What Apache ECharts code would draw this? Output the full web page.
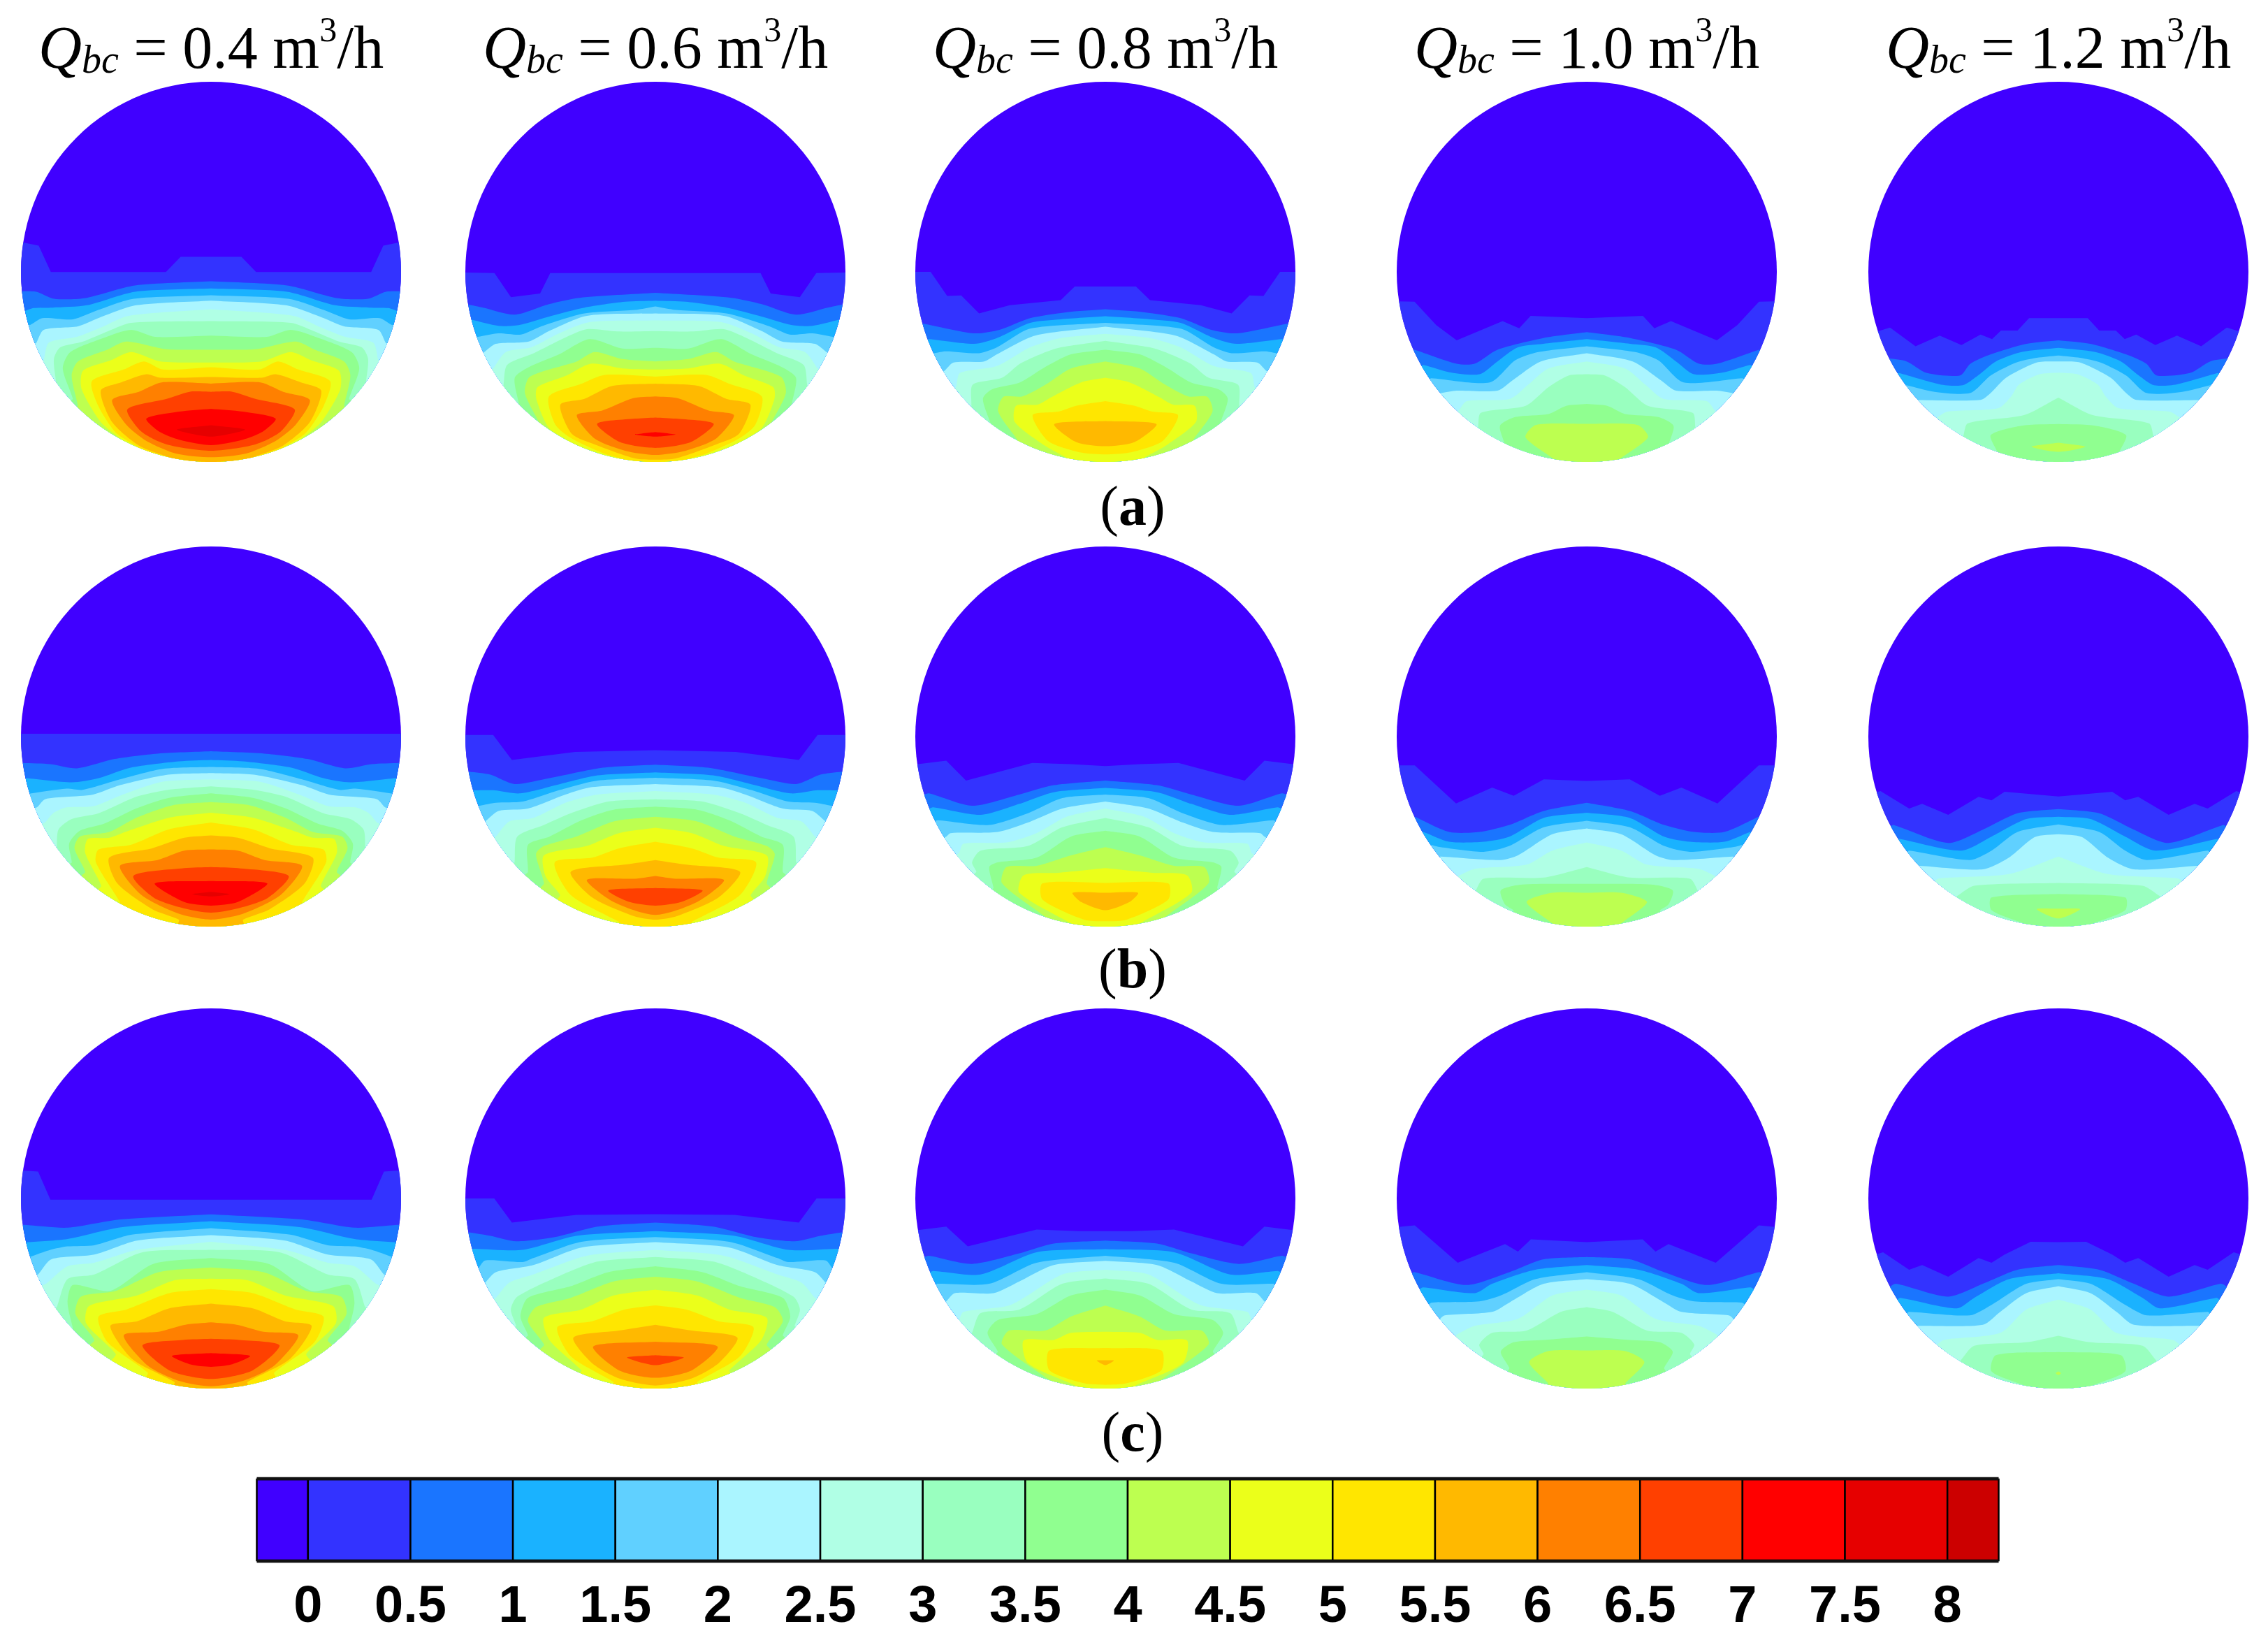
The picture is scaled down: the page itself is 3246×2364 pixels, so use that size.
<!DOCTYPE html>
<html><head><meta charset="utf-8">
<style>html,body{margin:0;padding:0;background:#fff}#c{width:3246px;height:2364px}</style>
<script src="https://cdn.jsdelivr.net/npm/echarts@6/dist/echarts.min.js"></script>
</head><body><div id="c"></div>
<script>
// Contour boundaries, right half of each pipe section (mirrored left): pairs of [offset from axis, depth].
// One list per contour level 0, 0.5, 1, ... Units are each panel's axis units.
const flowRates=['0.4','0.6','0.8','1.0','1.2'];
const rowLabels=['a','b','c'];
const tickLabels=['0','0.5','1','1.5','2','2.5','3','3.5','4','4.5','5','5.5','6','6.5','7','7.5','8'];
const bandColors=['#4000ff','#3333ff','#1a75ff','#1ab2ff','#60d0ff','#aaf5ff','#b0ffe5','#99ffbf','#90ff90','#bdff50','#ebff1a','#ffe600','#ffb900','#ff8000','#ff4000','#ff0000','#e60000','#cc0000'];
const xHalfSpans=[[750,750,745,745,745],[355,355,221,221,219],[355,355,221,221,219]];
const yCentres=[147,162,165];
const yHalfSpan=813;

const panelA1=[[0,83,120,83,178,148,632,148,680,35,750,20],[0,187,300,205,500,260,620,262,690,232,750,230],[0,218,300,232,490,290,625,300,700,302,750,318],[0,247,305,262,445,310,545,350,665,345,715,375,750,380],[0,270,295,290,445,345,525,380,660,395,690,452],[0,307,325,335,435,385,530,425,640,450,660,525],[0,358,315,365,405,400,505,445,595,470,620,520,615,620],[0,420,220,425,315,395,425,430,555,490,585,560,545,690],[0,480,175,478,335,445,410,480,525,530,550,590,525,720],[0,535,200,530,315,490,395,525,505,570,510,650,435,790,360,860],[0,555,190,565,265,530,345,565,470,615,445,720,375,835,283,905],[0,597,200,600,255,585,355,620,435,655,390,790,285,890,170,945],[0,625,195,620,285,660,390,695,335,800,255,870,135,925,0,940],[0,660,85,660,175,690,330,735,275,830,175,885,0,912],[0,733,125,745,255,775,205,830,125,865,0,888],[0,803,135,822,0,852]];
const panelA2=[[0,152,415,152,455,240,570,255,635,152,750,150],[0,237,300,258,420,285,555,330,680,300,740,287],[0,270,120,275,280,300,410,335,540,375,620,378,725,352],[0,295,80,310,280,325,450,380,530,415,620,410,700,425],[0,325,270,335,420,400,500,445,630,455,675,490],[0,355,260,362,380,410,490,470,590,490,640,560],[0,400,150,402,270,392,360,430,480,495,585,545,605,640],[0,472,130,475,260,435,380,500,500,555,555,600,545,720],[0,530,130,520,240,490,310,530,495,595,515,665,460,790],[0,565,130,560,255,540,350,590,465,640,470,690,420,815,335,875],[0,595,200,588,290,625,420,680,395,800,330,860,200,925,130,960],[0,625,170,635,280,690,375,715,330,840,240,885,80,945,0,950],[0,680,90,688,210,740,310,760,240,860,120,912,0,930],[0,770,80,775,230,797,140,875,0,900],[0,832,80,843,0,852]];
const panelA3=[[0,210,120,210,175,268,375,290,495,325,565,248,620,250,685,147,745,147],[0,307,155,320,295,345,415,395,515,410,715,368],[0,337,175,350,295,365,425,430,515,455,690,435],[0,365,295,390,425,470,495,495,625,487,670,495],[0,382,275,420,425,500,475,530,595,535,630,570],[0,412,175,430,295,470,425,550,570,580,585,640],[0,442,175,470,245,495,335,540,405,600,520,630,525,720],[0,480,135,500,245,560,335,620,445,650,480,690,450,795],[0,530,135,560,235,630,325,680,400,682,420,745,345,865],[0,600,95,620,215,685,265,715,350,720,355,790,245,885,155,940],[0,700,115,720,185,745,285,760,225,870,95,920,0,928],[0,785,200,798,115,875,0,893]];
const panelA4=[[0,345,220,335,265,388,330,358,510,440,590,375,675,275,745,275],[0,405,170,430,350,480,440,540,510,540,675,480],[0,435,170,455,270,470,350,530,420,585,530,578,640,545],[0,465,190,490,280,525,380,620,610,602],[0,495,180,530,290,610,350,655,510,655,570,665],[0,530,150,560,230,630,300,690,470,700,505,745],[0,585,70,590,150,640,240,720,415,750,430,820],[0,712,80,720,150,755,280,768,340,805,325,885],[0,797,200,802,240,855,130,950]];
const panelA5=[[0,345,115,345,160,398,225,398,260,435,305,415,380,460,465,420,560,465,660,385,705,400],[0,440,125,455,265,500,345,540,385,590,515,580,595,530,665,518],[0,472,145,490,245,530,315,590,375,632,465,628,625,580],[0,505,85,515,165,535,265,590,345,665,485,660,600,632],[0,530,85,535,205,600,265,665,305,695,555,700],[0,578,75,585,155,630,185,680,235,730,435,745,475,770],[0,685,135,760,355,795,375,855],[0,798,145,805,265,845,240,920],[0,878,105,895,0,917]];
const panelB1=[[0,150,355,150],[0,225,100,235,180,258,250,298,300,280,352,275],[0,262,60,268,150,295,210,340,260,358,345,340],[0,292,90,300,170,345,240,390,270,385,335,405],[0,318,80,325,170,370,220,410,270,420,310,430,325,465],[0,345,90,355,170,415,220,460,270,465,295,490,310,530],[0,375,80,390,140,420,210,490,260,515,285,560,290,640],[0,405,80,425,140,470,200,535,245,565,265,620,260,700],[0,442,70,455,140,510,190,570,245,590,255,640,235,740],[0,488,80,510,160,570,190,595,230,600,235,660,205,800],[0,530,80,560,150,625,210,645,215,700,170,870],[0,585,50,595,110,640,190,680,175,790,110,900,60,945],[0,645,50,650,100,690,170,715,130,840,60,920,0,945],[0,720,50,725,145,758,100,860,0,915],[0,780,105,790,50,870,0,885],[0,826,35,836,0,846]];
const panelB2=[[0,220,150,228,268,262,303,155,358,155],[0,282,98,295,198,340,263,365,308,325,348,312],[0,315,108,328,178,365,253,405,300,392,340,392],[0,338,108,350,178,390,248,440,298,445,328,458],[0,365,118,378,168,410,238,470,293,480,318,525],[0,395,108,410,168,445,228,510,273,525,298,590],[0,430,88,440,158,490,208,540,258,590,263,700],[0,462,78,475,138,520,198,590,238,625,238,740],[0,505,78,525,148,590,208,630,223,665,208,790],[0,552,68,575,128,630,208,670,205,760,178,840],[0,612,68,640,118,680,188,700,158,840,68,955],[0,690,58,710,158,740,118,850,40,930,0,945],[0,758,38,770,128,775,78,870,0,925],[0,810,88,820,48,870,0,885]];
const panelB3=[[0,288,40,280,85,275,162,350,185,265,218,280],[0,350,60,370,100,410,155,458,205,405],[0,382,60,400,100,450,145,497,200,465],[0,410,50,425,90,490,135,540,195,520],[0,440,50,470,90,530,125,570,180,575,185,590],[0,470,45,505,80,575,115,615,165,620,170,660],[0,510,50,550,90,630,145,650,155,700,150,740],[0,565,40,590,80,680,125,700,135,720,130,810],[0,635,40,670,80,715,115,720,120,790,70,935],[0,725,55,745,95,755,100,830,40,965],[0,788,73,790,73,860,25,945,0,952],[0,830,38,830,28,870,0,905]];
const panelB4=[[0,352,50,345,85,415,110,380,152,448,200,285,218,285],[0,445,50,480,90,540,125,570,160,570,200,505],[0,488,50,510,90,590,120,612,160,612,190,570],[0,522,50,550,90,630,120,655,170,635,182,625],[0,555,40,580,80,670,100,690,170,675],[0,615,40,650,70,710,130,728,150,760],[0,720,50,765,120,770,130,825],[0,792,75,795,100,820,95,880,85,905],[0,830,40,830,70,870,40,965]];
const panelB5=[[0,418,62,398,77,435,92,420,127,497,157,450,172,470,205,395],[0,472,47,490,87,560,127,617,190,540],[0,505,37,515,77,590,112,650,183,600],[0,538,47,570,77,650,102,690,172,650],[0,580,27,592,57,680,87,730,160,715],[0,675,57,750,137,768,145,790],[0,788,97,800,117,845],[0,835,77,850,77,905,40,965],[0,898,25,900,0,940]];
const panelC1=[[0,170,300,170,323,50,353,45],[0,233,170,255,268,290,348,278],[0,262,168,288,268,338,343,352],[0,292,148,320,218,365,268,370,300,385,338,415],[0,322,138,345,218,405,298,425,323,490],[0,350,138,385,218,440,268,455,308,530],[0,385,128,395,218,490,268,510,288,630],[0,420,108,445,188,560,258,535,268,610,258,720],[0,460,98,480,178,560,243,585,253,660,218,770],[0,508,68,515,138,580,228,625,233,700,178,830],[0,553,78,570,158,640,210,670,193,780,118,910],[0,615,78,635,138,690,188,710,148,850,68,950],[0,695,48,705,98,735,163,750,118,880,60,945,0,968],[0,765,53,770,128,793,78,900,0,937],[0,826,73,838,38,875,0,885]];
const panelC2=[[0,232,148,235,268,268,301,165,358,165],[0,268,108,285,188,330,260,348,308,325,348,310],[0,305,148,325,248,385,338,380],[0,330,138,350,228,420,248,437,318,430,333,465],[0,352,138,375,228,450,298,480,318,525],[0,385,128,410,228,490,273,525,298,590],[0,415,108,435,178,495,258,585,270,640,260,710],[0,455,88,480,158,540,238,590,252,670,238,750],[0,500,78,520,158,590,223,630,238,690,208,790],[0,555,78,580,138,640,208,675,198,770,138,900],[0,622,58,640,118,690,183,715,158,840,78,950],[0,705,68,730,153,760,118,870,68,935,0,965],[0,778,116,798,68,900,0,932],[0,835,53,845,0,878]];
const panelC3=[[0,305,30,305,80,298,160,370,185,285,218,300],[0,345,60,358,100,400,155,445,205,410],[0,382,80,395,145,490,200,475],[0,410,80,440,135,530,195,530],[0,432,60,450,100,520,130,570,175,570,185,605],[0,470,50,490,110,620,165,650,172,690],[0,507,50,530,100,640,145,655,155,740],[0,555,40,580,80,660,125,685,137,740,125,820],[0,623,40,670,70,730,112,730,120,790,65,945],[0,735,40,740,60,770,95,772,90,870,35,965],[0,805,65,815,65,900,25,955,0,962],[0,857,10,858,0,878]];
const panelC4=[[0,352,65,340,80,392,95,360,150,440,200,280,215,285],[0,415,50,425,90,480,140,535,200,480],[0,450,60,470,110,530,130,570,190,545],[0,480,60,510,100,580,125,605,180,610],[0,510,50,530,90,610,110,650,165,665],[0,555,40,580,80,680,130,710,150,745],[0,630,30,650,70,730,110,740,125,790,120,830],[0,755,50,770,85,780,100,820,90,890],[0,815,45,818,67,865,45,955]];
const panelC5=[[0,352,32,350,62,405,77,440,92,420,127,500,157,450,172,470,202,395],[0,450,47,470,87,530,127,585,187,530],[0,485,57,510,97,590,117,635,182,590],[0,510,37,530,77,620,102,665,172,650],[0,540,37,570,67,650,87,705,162,710],[0,598,37,640,67,740,132,770,140,790],[0,752,37,780,97,795,112,855],[0,822,72,835,77,905,40,970],[0,905,3,912,0,920]];
const panels=[[panelA1,panelA2,panelA3,panelA4,panelA5],[panelB1,panelB2,panelB3,panelB4,panelB5],[panelC1,panelC2,panelC3,panelC4,panelC5]];

const colX=[302,938,1582,2271,2946], rowY=[389,1054,1715], R=272;
const serif='"Liberation Serif","DejaVu Serif",serif';
const chart=echarts.init(document.getElementById('c'),null,{renderer:'canvas'});
const grid=[],xAxis=[],yAxis=[],series=[],title=[];

function outline(levelPts,X,Yc,Y){
  const pts=[];
  for(let i=0;i<levelPts.length;i+=2){
    const u=levelPts[i]/X,v=(levelPts[i+1]-Yc)/Y,r=Math.hypot(u,v);
    pts.push(r>1?[u/r,v/r]:[u,v]);
  }
  const last=pts[pts.length-1];
  const right=pts.slice();
  if(last[0]!==0){
    const r=Math.hypot(last[0],last[1]);
    const e=[last[0]/r,last[1]/r];
    right.push(e);
    const a0=Math.atan2(e[1],e[0]);
    const steps=40;
    for(let k=1;k<steps;k++){
      const a=a0+(Math.PI/2-a0)*k/steps;
      right.push([Math.cos(a),Math.sin(a)]);
    }
    right.push([0,1]);
  }
  const left=right.slice(0,-1).reverse().map(p=>[-p[0],p[1]]);
  return right.concat(left).map(p=>[p[0]*X,Yc+p[1]*Y]);
}

panels.forEach((row,ri)=>row.forEach((levels,ci)=>{
  const gi=grid.length,X=xHalfSpans[ri][ci],Yc=yCentres[ri],Y=yHalfSpan;
  grid.push({left:colX[ci]-R,top:rowY[ri]-R,width:2*R,height:2*R,containLabel:false});
  xAxis.push({type:'value',gridIndex:gi,min:-X,max:X,show:false});
  yAxis.push({type:'value',gridIndex:gi,min:Yc-Y,max:Yc+Y,inverse:true,show:false});
  const disc=[];for(let k=0;k<120;k++){const a=k/120*2*Math.PI;disc.push([X*Math.cos(a),Yc+Y*Math.sin(a)]);}
  const polys=[{pts:disc,color:bandColors[0],smooth:0}].concat(levels.map((l,i)=>({pts:outline(l,X,Yc,Y),color:bandColors[i+1],smooth:i===0?0:0.25})));
  series.push({type:'custom',xAxisIndex:gi,yAxisIndex:gi,coordinateSystem:'cartesian2d',clip:false,animation:false,silent:true,
    data:polys.map((p,i)=>[0,Yc,i]),
    encode:{x:0,y:1},
    renderItem:(params,api)=>{
      const p=polys[api.value(2)];
      return {type:'polygon',shape:{points:p.pts.map(q=>api.coord(q)),smooth:p.smooth},style:{fill:p.color,stroke:null}};
    }});
}));

// colour bar
const gb=grid.length;
grid.push({left:367.5,top:2117,width:2493,height:116});
xAxis.push({type:'value',gridIndex:gb,min:-0.25,max:8.25,interval:0.25,
  axisLine:{show:false},axisTick:{show:false},splitLine:{show:false},
  axisLabel:{show:true,margin:31,color:'#000',fontFamily:'"Liberation Sans",Arial,sans-serif',fontWeight:'bold',fontSize:74,showMinLabel:true,showMaxLabel:true,hideOverlap:false,
    formatter:v=>{const i=Math.round(v*2);return (Math.abs(v*2-i)<1e-6&&i>=0&&i<tickLabels.length)?tickLabels[i]:'';}}});
yAxis.push({type:'value',gridIndex:gb,min:0,max:1,show:false});
const barEdges=[-0.25,0,0.5,1,1.5,2,2.5,3,3.5,4,4.5,5,5.5,6,6.5,7,7.5,8,8.25];
series.push({type:'custom',xAxisIndex:gb,yAxisIndex:gb,coordinateSystem:'cartesian2d',clip:false,animation:false,silent:true,
  data:bandColors.map((c,i)=>[barEdges[i],barEdges[i+1],i]),
  encode:{x:[0,1]},
  renderItem:(params,api)=>{
    const a=api.coord([api.value(0),1]),b=api.coord([api.value(1),0]);
    return {type:'rect',shape:{x:a[0],y:a[1],width:b[0]-a[0],height:b[1]-a[1]},style:{fill:bandColors[api.value(2)],stroke:'#000',lineWidth:2.5}};
  }});
series.push({type:'custom',xAxisIndex:gb,yAxisIndex:gb,coordinateSystem:'cartesian2d',clip:false,animation:false,silent:true,z:5,
  data:[[-0.25,8.25]],encode:{x:[0,1]},
  renderItem:(params,api)=>{
    const a=api.coord([api.value(0),1]),b=api.coord([api.value(1),0]);
    return {type:'group',children:[
      {type:'line',shape:{x1:a[0],y1:a[1]-1,x2:b[0],y2:a[1]-1},style:{stroke:'#111',lineWidth:4.5}},
      {type:'line',shape:{x1:a[0],y1:b[1]+1,x2:b[0],y2:b[1]+1},style:{stroke:'#111',lineWidth:4.5}}]};
  }});

// headers
const plain={fontFamily:serif,fontWeight:'normal',color:'#000'};
flowRates.forEach((q,i)=>title.push({text:'{q|Q}{s|bc}{t| = '+q+' m}{u|3}{t|/h}',left:colX[i],top:21,textAlign:'center',padding:0,
  textStyle:{fontWeight:'normal',rich:{
    q:{...plain,fontStyle:'italic',fontSize:86,lineHeight:96,verticalAlign:'bottom'},
    s:{...plain,fontStyle:'italic',fontSize:56,lineHeight:96,verticalAlign:'bottom'},
    t:{...plain,fontSize:86,lineHeight:96,verticalAlign:'bottom'},
    u:{...plain,fontSize:50,lineHeight:96,verticalAlign:'top'}}}}));
const labelY=[690,1352,2015];
rowLabels.forEach((l,i)=>title.push({text:'{p|(}{b|'+l+'}{p|)}',left:1621,top:labelY[i],textAlign:'center',padding:0,
  textStyle:{fontWeight:'normal',rich:{p:{...plain,fontSize:80},b:{...plain,fontWeight:'bold',fontSize:80}}}}));

chart.setOption({animation:false,backgroundColor:'#fff',title,grid,xAxis,yAxis,series});
</script></body></html>
